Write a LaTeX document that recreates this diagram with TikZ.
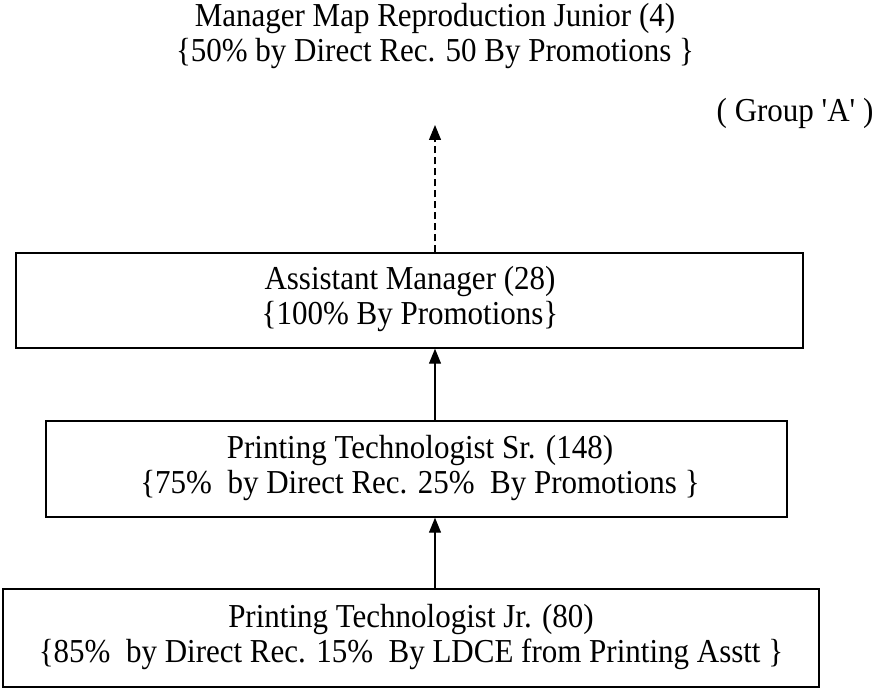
\documentclass[tikz,border=0pt]{standalone}
\usepackage{fontspec}
\usepackage{graphicx}
\setmainfont{Liberation Serif}[Ligatures=TeXOff]
\usetikzlibrary{arrows.meta}
\tikzset{
  box/.style={draw, line width=1.4pt, rectangle, inner sep=0pt},
  lbl/.style={font=\fontsize{31}{32}\selectfont, align=center, inner sep=0pt},
  up/.style={line width=1.2pt, -{Triangle[length=15pt,width=12pt]}},
}
\newcommand{\tall}[1]{\scalebox{1}[1.08]{\begin{tabular}{@{}c@{}}#1\end{tabular}}}
\begin{document}
\begin{tikzpicture}[x=1pt,y=1pt]
\useasboundingbox (0,0) rectangle (882,691);
% boxes
\node[box, minimum width=787pt, minimum height=95pt] (box1) at (409.5,390.5) {};
\node[box, minimum width=741pt, minimum height=96pt] (box2) at (416.5,222) {};
\node[box, minimum width=816pt, minimum height=98pt] (box3) at (411,53) {};
% texts
\node[lbl] (t1) at (410,391) {\tall{Assistant Manager (28)\\\{100\% By Promotions\}}};
\node[lbl] (t2) at (420,222) {\tall{Printing Technologist Sr. (148)\\\{75\%\ \ by Direct Rec. 25\%\ \ By Promotions \}}};
\node[lbl] (t3) at (411,53) {\tall{Printing Technologist Jr. (80)\\\{85\%\ \ by Direct Rec. 15\%\ \ By LDCE from Printing Asstt \}}};
\node[lbl] (t0) at (435,654) {\tall{Manager Map Reproduction Junior (4)\\\{50\% by Direct Rec. 50 By Promotions \}}};
\node[lbl] (grp) at (795,576) {\tall{( Group 'A' )}};
\coordinate (tip) at (435,566);
\coordinate (ax) at (435,0);
% connectors
\draw[up] (ax |- box3.north) -- (ax |- box2.south);
\draw[up] (ax |- box2.north) -- (ax |- box1.south);
\draw[up, dash pattern=on 7pt off 4pt] (ax |- box1.north) -- (tip);
\end{tikzpicture}
\end{document}
